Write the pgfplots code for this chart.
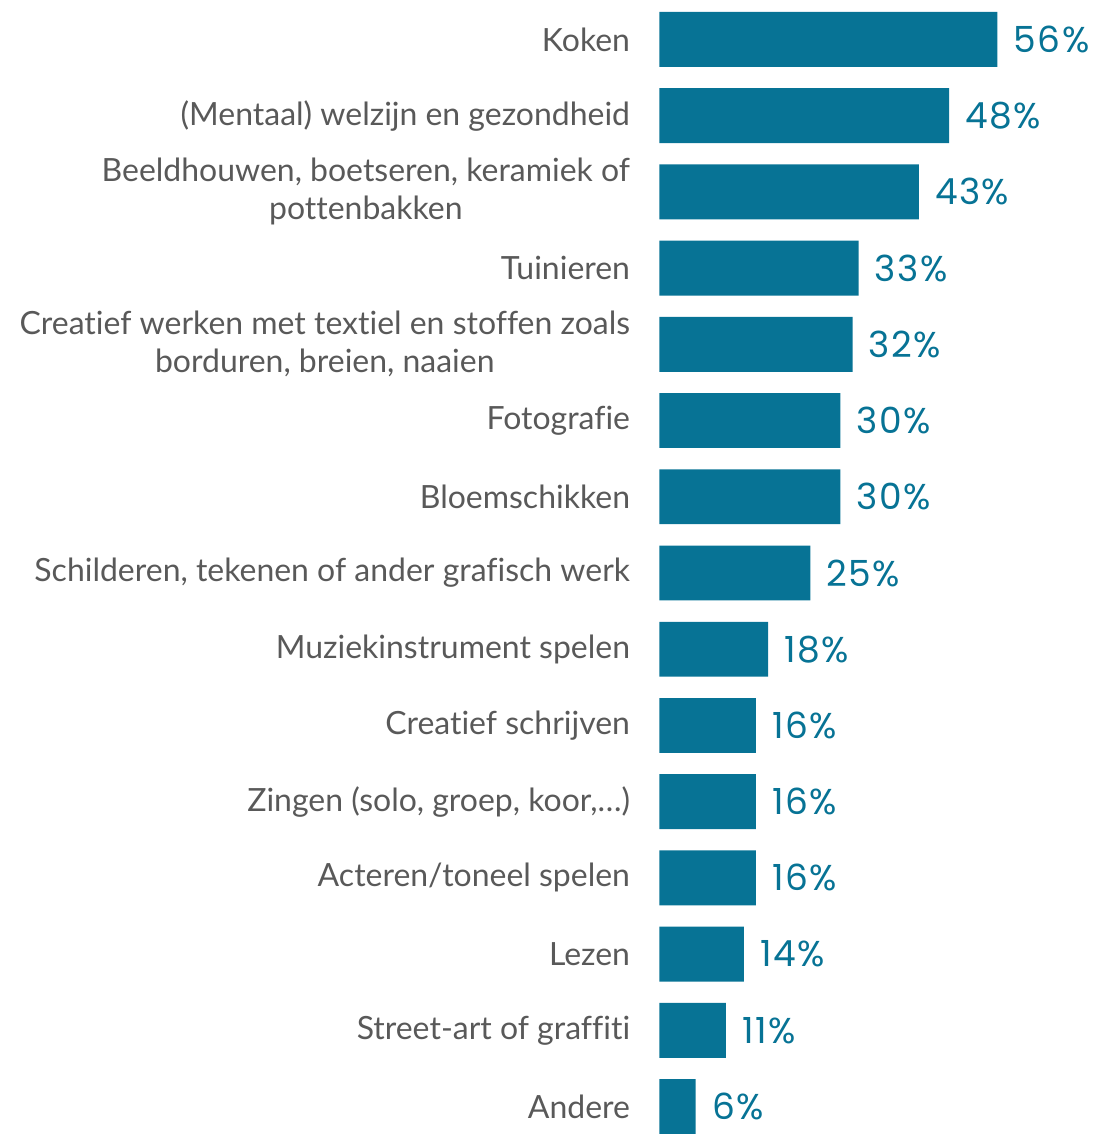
\documentclass[border=0pt]{standalone}
\usepackage{pgfplots}
\pgfplotsset{compat=1.18}
\usepackage{fontspec}
\setmainfont{Lato}[Ligatures=NoCommon]
\newfontfamily\numfont{Poppins}[LetterSpace=4]
\definecolor{barblue}{HTML}{077395}
\definecolor{labelgray}{HTML}{595959}

\begin{document}
\begin{tikzpicture}
% fixed page size: 1px = 0.5pt
\path[use as bounding box] (0,0) rectangle (550pt,567.5pt);
\begin{axis}[
    at={(330pt,0pt)}, anchor=south west,
    scale only axis,
    width=220pt, height=567.5pt,
    xbar,
    bar width=0.72,
    y dir=reverse,
    xmin=0, xmax=72.85,
    ymin=-0.517, ymax=14.36,
    axis line style={draw=none},
    xtick=\empty,
    ytick={0,1,2,3,4,5,6,7,8,9,10,11,12,13,14},
    yticklabels={
        Koken,
        (Mentaal) welzijn en gezondheid,
        {Beeldhouwen, boetseren, keramiek of\\pottenbakken},
        Tuinieren,
        {Creatief werken met textiel en stoffen zoals\\borduren, breien, naaien},
        Fotografie,
        Bloemschikken,
        {Schilderen, tekenen of ander grafisch werk},
        Muziekinstrument spelen,
        Creatief schrijven,
        {Zingen (solo, groep, koor,\ldots)},
        Acteren/toneel spelen,
        Lezen,
        Street-art of graffiti,
        Andere},
    major tick length=0pt,
    ytick style={draw=none},
    yticklabel style={inner sep=0pt, xshift=-14.5pt, align=center,
        font=\fontsize{16}{19}\selectfont, text=labelgray},
    /pgf/number format/assume math mode=true,
    nodes near coords={\pgfmathprintnumber\pgfplotspointmeta\%},
    nodes near coords style={anchor=west, inner sep=0pt, xshift=8pt,
        font=\numfont\fontsize{18}{20}\selectfont, text=barblue},
]
\addplot[fill=barblue, draw=none] coordinates {
    (56,0) (48,1) (43,2) (33,3) (32,4) (30,5) (30,6) (25,7)
    (18,8) (16,9) (16,10) (16,11) (14,12) (11,13) (6,14)
};
\end{axis}
\end{tikzpicture}
\end{document}
